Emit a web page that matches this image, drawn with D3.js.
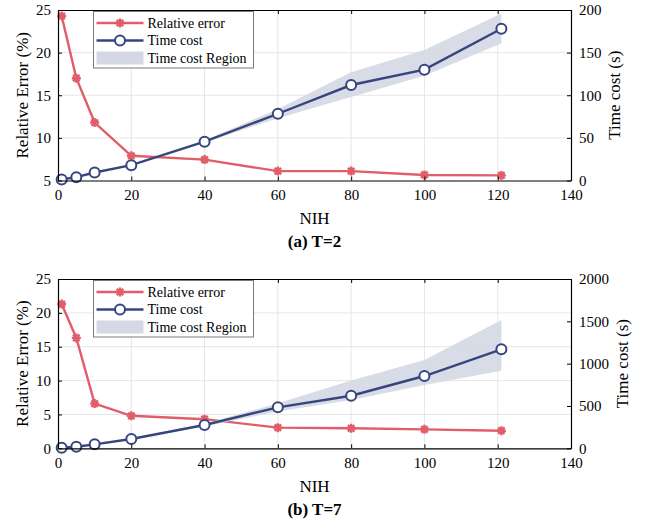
<!DOCTYPE html>
<html>
<head>
<meta charset="utf-8">
<script src="https://cdn.jsdelivr.net/npm/d3@7"></script>
<style>
  body { margin: 0; background: #fff; }
  svg { font-family: "Liberation Serif", "Times New Roman", serif; }
</style>
</head>
<body>
<svg id="chart" width="652" height="524"></svg>
<script>
// shared x values
const nih = [1, 5, 10, 20, 40, 60, 80, 100, 121];
const xTicks = [0, 20, 40, 60, 80, 100, 120, 140];

// (a) T=2
const errA = [24.3, 17.0, 11.8, 7.9, 7.45, 6.1, 6.1, 5.65, 5.6];
const timeA = [1.2, 3.9, 9.4, 18, 45.5, 78.3, 112, 130, 178];
const timeLoA = [1.0, 3.6, 9.0, 17.5, 44.5, 73, 98, 123, 161];
const timeHiA = [1.4, 4.2, 9.8, 18.5, 47, 84, 127, 153, 196];
const leftTicksA = [5, 10, 15, 20, 25];
const rightTicksA = [0, 50, 100, 150, 200];

// (b) T=7
const errB = [21.3, 16.3, 6.6, 4.8, 4.3, 3.05, 2.95, 2.8, 2.6];
const timeB = [7, 19, 47, 110, 275, 484, 621, 854, 1169];
const timeLoB = [5, 16, 42, 102, 260, 435, 571, 748, 917];
const timeHiB = [9, 22, 52, 118, 290, 533, 800, 1043, 1516];
const leftTicksB = [0, 5, 10, 15, 20, 25];
const rightTicksB = [0, 500, 1000, 1500, 2000];

const legendLabels = ["Relative error", "Time cost", "Time cost Region"];

const red = "#E15D69";
const blue = "#37457F";
const band = "#D4D8E3";

const svg = d3.select("#chart");

// asterisk marker like matlab '*'
function star(g, x, y) {
  let r = 4.5, d = r * 0.72;
  let p = "M" + (x - r) + "," + y + "L" + (x + r) + "," + y +
    "M" + x + "," + (y - r) + "L" + x + "," + (y + r) +
    "M" + (x - d) + "," + (y - d) + "L" + (x + d) + "," + (y + d) +
    "M" + (x - d) + "," + (y + d) + "L" + (x + d) + "," + (y - d);
  g.append("path").attr("d", p).attr("stroke", red).attr("stroke-width", 2.4).attr("fill", "none");
}

function panel(opt) {
  let left = 58, right = 571, top = opt.top, bottom = opt.bottom;
  let g = svg.append("g");

  let x = d3.scaleLinear().domain([0, 140]).range([left, right]);
  let yL = d3.scaleLinear().domain(opt.leftDomain).range([bottom, top]);
  let yR = d3.scaleLinear().domain(opt.rightDomain).range([bottom, top]);

  // grid
  g.selectAll(".gx").data(xTicks.slice(1, -1)).enter().append("line")
    .attr("x1", d => x(d)).attr("x2", d => x(d))
    .attr("y1", top).attr("y2", bottom)
    .attr("stroke", "#e6e6e6").attr("stroke-width", 1);
  g.selectAll(".gy").data(opt.leftTicks.slice(1, -1)).enter().append("line")
    .attr("x1", left).attr("x2", right)
    .attr("y1", d => yL(d)).attr("y2", d => yL(d))
    .attr("stroke", "#e6e6e6").attr("stroke-width", 1);

  // relative error (left axis)
  g.append("path").datum(opt.err)
    .attr("d", d3.line().x((d, i) => x(nih[i])).y(d => yL(d)))
    .attr("fill", "none").attr("stroke", red).attr("stroke-width", 2.4);
  opt.err.forEach((d, i) => star(g, x(nih[i]), yL(d)));

  // time cost region + line (right axis)
  g.append("path").datum(nih)
    .attr("d", d3.area().x(d => x(d))
      .y0((d, i) => yR(opt.lo[i])).y1((d, i) => yR(opt.hi[i])))
    .attr("fill", band).attr("opacity", 0.9);
  g.append("path").datum(opt.time)
    .attr("d", d3.line().x((d, i) => x(nih[i])).y(d => yR(d)))
    .attr("fill", "none").attr("stroke", blue).attr("stroke-width", 2.4);
  g.selectAll(".c").data(opt.time).enter().append("circle")
    .attr("cx", (d, i) => x(nih[i])).attr("cy", d => yR(d)).attr("r", 5)
    .attr("fill", "#fff").attr("stroke", blue).attr("stroke-width", 2);

  // axes, ticks inward
  let xAxis = d3.axisBottom(x).tickValues(xTicks).tickSizeInner(-4).tickSizeOuter(0).tickPadding(9);
  let xTop = d3.axisTop(x).tickValues(xTicks).tickSizeInner(-4).tickSizeOuter(0).tickFormat("");
  let yAxisL = d3.axisLeft(yL).tickValues(opt.leftTicks).tickSizeInner(-4).tickSizeOuter(0).tickPadding(7);
  let yAxisR = d3.axisRight(yR).tickValues(opt.rightTicks).tickFormat(d3.format("d"))
    .tickSizeInner(-4).tickSizeOuter(0).tickPadding(8);

  let ax = [
    g.append("g").attr("transform", "translate(0," + bottom + ")").call(xAxis),
    g.append("g").attr("transform", "translate(0," + top + ")").call(xTop),
    g.append("g").attr("transform", "translate(" + left + ",0)").call(yAxisL),
    g.append("g").attr("transform", "translate(" + right + ",0)").call(yAxisR)
  ];
  ax.forEach(a => {
    a.select(".domain").attr("stroke", "#000").attr("stroke-width", 1.2);
    a.selectAll(".tick line").attr("stroke", "#000");
    a.selectAll(".tick text").attr("font-family", "Liberation Serif").attr("font-size", 15).attr("fill", "#000");
  });

  // axis labels
  g.append("text").attr("transform", "translate(28," + ((top + bottom) / 2) + ") rotate(-90)")
    .attr("text-anchor", "middle").attr("font-size", 17).text("Relative Error (%)");
  g.append("text").attr("transform", "translate(" + opt.rightLabelX + "," + ((top + bottom) / 2) + ") rotate(-90)")
    .attr("text-anchor", "middle").attr("font-size", 17).text("Time cost (s)");
  g.append("text").attr("x", (left + right) / 2).attr("y", bottom + 43.5)
    .attr("text-anchor", "middle").attr("font-size", 17).text("NIH");
  g.append("text").attr("x", (left + right) / 2).attr("y", bottom + 66.5)
    .attr("text-anchor", "middle").attr("font-size", 17).attr("font-weight", "bold").text(opt.title);

  // legend
  let lx = 93.5, ly = top + 1.5, lw = 160, lh = 56.5;
  let lg = g.append("g");
  lg.append("rect").attr("x", lx).attr("y", ly).attr("width", lw).attr("height", lh)
    .attr("fill", "#fff").attr("stroke", "#7a7a7a").attr("stroke-width", 1);
  let rows = [ly + 11.5, ly + 29, ly + 46.5];
  lg.append("line").attr("x1", lx + 3).attr("x2", lx + 50).attr("y1", rows[0]).attr("y2", rows[0])
    .attr("stroke", red).attr("stroke-width", 2.4);
  star(lg, lx + 26.5, rows[0]);
  lg.append("line").attr("x1", lx + 3).attr("x2", lx + 50).attr("y1", rows[1]).attr("y2", rows[1])
    .attr("stroke", blue).attr("stroke-width", 2.4);
  lg.append("circle").attr("cx", lx + 26.5).attr("cy", rows[1]).attr("r", 5)
    .attr("fill", "#fff").attr("stroke", blue).attr("stroke-width", 2);
  lg.append("rect").attr("x", lx + 3).attr("y", rows[2] - 6.5).attr("width", 47).attr("height", 13)
    .attr("fill", band);
  lg.selectAll(".lt").data(legendLabels).enter().append("text")
    .attr("x", lx + 54).attr("y", (d, i) => rows[i]).attr("dy", "0.35em")
    .attr("font-size", 14).text(d => d);
}

panel({
  top: 10, bottom: 180.5,
  leftDomain: [5, 25], rightDomain: [0, 200],
  leftTicks: leftTicksA, rightTicks: rightTicksA,
  err: errA, time: timeA, lo: timeLoA, hi: timeHiA,
  rightLabelX: 620, title: "(a) T=2"
});

panel({
  top: 279, bottom: 448.3,
  leftDomain: [0, 25], rightDomain: [0, 2000],
  leftTicks: leftTicksB, rightTicks: rightTicksB,
  err: errB, time: timeB, lo: timeLoB, hi: timeHiB,
  rightLabelX: 628, title: "(b) T=7"
});
</script>
</body>
</html>
